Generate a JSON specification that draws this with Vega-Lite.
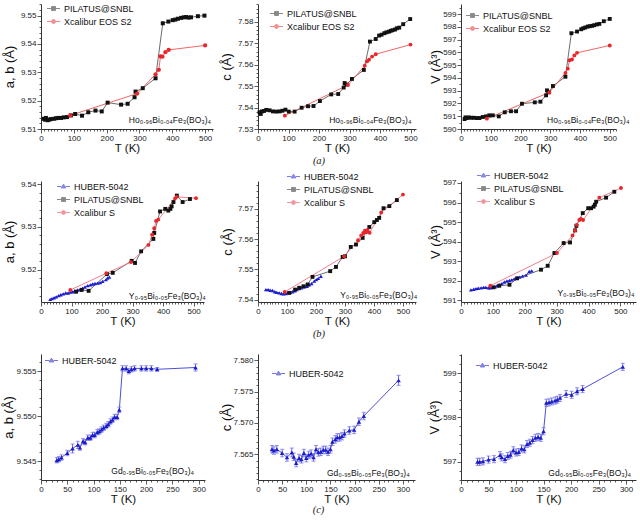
{
"$schema":"https://vega.github.io/schema/vega-lite/v6.json",
"background":"white",
"padding":{"left":2,"top":0,"right":2,"bottom":0},
"columns":3,
"bounds":"flush",
"align":"each",
"spacing":{"row":52,"column":45},
"resolve":{"scale":{"color":"independent","stroke":"independent","shape":"independent"},"legend":{"color":"independent","stroke":"independent","shape":"independent"}},
"config":{
"view":{"stroke":null},
"font":"Liberation Sans",
"axis":{"grid":false,"domainColor":"#333","domainWidth":1,"tickColor":"#333","tickWidth":0.8,"labelColor":"#222","labelFontSize":8,"labelFont":"Liberation Sans","titleFont":"Liberation Sans","titleFontWeight":"normal","titleColor":"#111","labelFlush":false,"labelOverlap":false,"labelPadding":1},
"axisX":{"titleFontSize":11.5,"titlePadding":0,"titleFontWeight":"normal"},
"axisY":{"titleFontSize":13,"titleFontWeight":"normal"},
"legend":{"labelFont":"Liberation Sans","labelFontSize":9,"labelColor":"#111","labelFontWeight":"normal"},
"title":{"font":"Liberation Serif","fontStyle":"italic","fontWeight":"normal","fontSize":10.5,"color":"#222"}
},
"datasets":{
"p1":[
{"T":8,"v":9.5136,"s":"PILATUS@SNBL"},{"T":12,"v":9.5133,"s":"PILATUS@SNBL"},{"T":15,"v":9.5139,"s":"PILATUS@SNBL"},{"T":20,"v":9.5131,"s":"PILATUS@SNBL"},{"T":25,"v":9.5133,"s":"PILATUS@SNBL"},{"T":30,"v":9.5135,"s":"PILATUS@SNBL"},{"T":39,"v":9.5136,"s":"PILATUS@SNBL"},{"T":46,"v":9.5138,"s":"PILATUS@SNBL"},{"T":53,"v":9.5139,"s":"PILATUS@SNBL"},{"T":61,"v":9.5139,"s":"PILATUS@SNBL"},{"T":69,"v":9.5141,"s":"PILATUS@SNBL"},{"T":79,"v":9.5142,"s":"PILATUS@SNBL"},{"T":91,"v":9.5148,"s":"PILATUS@SNBL"},{"T":104,"v":9.5153,"s":"PILATUS@SNBL"},{"T":125,"v":9.5147,"s":"PILATUS@SNBL"},{"T":144,"v":9.5159,"s":"PILATUS@SNBL"},{"T":166,"v":9.5165,"s":"PILATUS@SNBL"},{"T":185,"v":9.5162,"s":"PILATUS@SNBL"},{"T":203,"v":9.5193,"s":"PILATUS@SNBL"},{"T":244,"v":9.5186,"s":"PILATUS@SNBL"},{"T":264,"v":9.5189,"s":"PILATUS@SNBL"},{"T":285,"v":9.5212,"s":"PILATUS@SNBL"},{"T":288,"v":9.5232,"s":"PILATUS@SNBL"},{"T":310,"v":9.5244,"s":"PILATUS@SNBL"},{"T":349,"v":9.5279,"s":"PILATUS@SNBL"},{"T":371,"v":9.5473,"s":"PILATUS@SNBL"},{"T":388,"v":9.5479,"s":"PILATUS@SNBL"},{"T":401,"v":9.5484,"s":"PILATUS@SNBL"},{"T":409,"v":9.5486,"s":"PILATUS@SNBL"},{"T":417,"v":9.5489,"s":"PILATUS@SNBL"},{"T":427,"v":9.5492,"s":"PILATUS@SNBL"},{"T":435,"v":9.5494,"s":"PILATUS@SNBL"},{"T":442,"v":9.5495,"s":"PILATUS@SNBL"},{"T":449,"v":9.5493,"s":"PILATUS@SNBL"},{"T":457,"v":9.5494,"s":"PILATUS@SNBL"},{"T":478,"v":9.5498,"s":"PILATUS@SNBL"},{"T":498,"v":9.55,"s":"PILATUS@SNBL"},
{"T":89,"v":9.5148,"s":"Xcalibur EOS S2"},{"T":293,"v":9.5225,"s":"Xcalibur EOS S2"},{"T":349,"v":9.5293,"s":"Xcalibur EOS S2"},{"T":359,"v":9.5309,"s":"Xcalibur EOS S2"},{"T":364,"v":9.5356,"s":"Xcalibur EOS S2"},{"T":370,"v":9.5355,"s":"Xcalibur EOS S2"},{"T":379,"v":9.5371,"s":"Xcalibur EOS S2"},{"T":389,"v":9.5379,"s":"Xcalibur EOS S2"},{"T":500,"v":9.5395,"s":"Xcalibur EOS S2"}
],
"p2":[
{"T":5,"v":7.5378,"s":"PILATUS@SNBL"},{"T":9,"v":7.537,"s":"PILATUS@SNBL"},{"T":13,"v":7.5382,"s":"PILATUS@SNBL"},{"T":20,"v":7.5384,"s":"PILATUS@SNBL"},{"T":27,"v":7.5389,"s":"PILATUS@SNBL"},{"T":38,"v":7.5387,"s":"PILATUS@SNBL"},{"T":49,"v":7.5382,"s":"PILATUS@SNBL"},{"T":60,"v":7.5381,"s":"PILATUS@SNBL"},{"T":71,"v":7.5382,"s":"PILATUS@SNBL"},{"T":80,"v":7.5385,"s":"PILATUS@SNBL"},{"T":90,"v":7.539,"s":"PILATUS@SNBL"},{"T":101,"v":7.5381,"s":"PILATUS@SNBL"},{"T":120,"v":7.5381,"s":"PILATUS@SNBL"},{"T":143,"v":7.5399,"s":"PILATUS@SNBL"},{"T":164,"v":7.5406,"s":"PILATUS@SNBL"},{"T":182,"v":7.5407,"s":"PILATUS@SNBL"},{"T":203,"v":7.543,"s":"PILATUS@SNBL"},{"T":240,"v":7.5461,"s":"PILATUS@SNBL"},{"T":263,"v":7.5463,"s":"PILATUS@SNBL"},{"T":281,"v":7.5493,"s":"PILATUS@SNBL"},{"T":284,"v":7.5514,"s":"PILATUS@SNBL"},{"T":290,"v":7.5507,"s":"PILATUS@SNBL"},{"T":308,"v":7.5533,"s":"PILATUS@SNBL"},{"T":347,"v":7.5575,"s":"PILATUS@SNBL"},{"T":367,"v":7.5707,"s":"PILATUS@SNBL"},{"T":386,"v":7.5719,"s":"PILATUS@SNBL"},{"T":397,"v":7.5735,"s":"PILATUS@SNBL"},{"T":405,"v":7.5739,"s":"PILATUS@SNBL"},{"T":414,"v":7.5746,"s":"PILATUS@SNBL"},{"T":421,"v":7.575,"s":"PILATUS@SNBL"},{"T":429,"v":7.5753,"s":"PILATUS@SNBL"},{"T":435,"v":7.5757,"s":"PILATUS@SNBL"},{"T":441,"v":7.576,"s":"PILATUS@SNBL"},{"T":449,"v":7.5763,"s":"PILATUS@SNBL"},{"T":455,"v":7.5769,"s":"PILATUS@SNBL"},{"T":463,"v":7.5772,"s":"PILATUS@SNBL"},{"T":476,"v":7.5788,"s":"PILATUS@SNBL"},{"T":499,"v":7.5812,"s":"PILATUS@SNBL"},
{"T":88,"v":7.5362,"s":"Xcalibur EOS S2"},{"T":295,"v":7.5505,"s":"Xcalibur EOS S2"},{"T":350,"v":7.5595,"s":"Xcalibur EOS S2"},{"T":358,"v":7.5615,"s":"Xcalibur EOS S2"},{"T":364,"v":7.5623,"s":"Xcalibur EOS S2"},{"T":374,"v":7.5637,"s":"Xcalibur EOS S2"},{"T":386,"v":7.5648,"s":"Xcalibur EOS S2"},{"T":500,"v":7.5693,"s":"Xcalibur EOS S2"}
],
"p3":[
{"T":12,"v":590.78,"s":"PILATUS@SNBL"},{"T":15,"v":590.91,"s":"PILATUS@SNBL"},{"T":20,"v":590.86,"s":"PILATUS@SNBL"},{"T":26,"v":590.91,"s":"PILATUS@SNBL"},{"T":34,"v":590.88,"s":"PILATUS@SNBL"},{"T":43,"v":590.88,"s":"PILATUS@SNBL"},{"T":52,"v":590.86,"s":"PILATUS@SNBL"},{"T":62,"v":590.86,"s":"PILATUS@SNBL"},{"T":73,"v":590.94,"s":"PILATUS@SNBL"},{"T":84,"v":590.99,"s":"PILATUS@SNBL"},{"T":95,"v":591.07,"s":"PILATUS@SNBL"},{"T":107,"v":591.07,"s":"PILATUS@SNBL"},{"T":127,"v":590.99,"s":"PILATUS@SNBL"},{"T":147,"v":591.31,"s":"PILATUS@SNBL"},{"T":168,"v":591.39,"s":"PILATUS@SNBL"},{"T":185,"v":591.39,"s":"PILATUS@SNBL"},{"T":205,"v":591.98,"s":"PILATUS@SNBL"},{"T":248,"v":592.09,"s":"PILATUS@SNBL"},{"T":267,"v":592.14,"s":"PILATUS@SNBL"},{"T":286,"v":592.64,"s":"PILATUS@SNBL"},{"T":289,"v":593.03,"s":"PILATUS@SNBL"},{"T":295,"v":592.87,"s":"PILATUS@SNBL"},{"T":309,"v":593.37,"s":"PILATUS@SNBL"},{"T":351,"v":594.1,"s":"PILATUS@SNBL"},{"T":371,"v":597.51,"s":"PILATUS@SNBL"},{"T":390,"v":597.64,"s":"PILATUS@SNBL"},{"T":404,"v":597.82,"s":"PILATUS@SNBL"},{"T":411,"v":597.9,"s":"PILATUS@SNBL"},{"T":418,"v":597.96,"s":"PILATUS@SNBL"},{"T":426,"v":598.03,"s":"PILATUS@SNBL"},{"T":433,"v":598.06,"s":"PILATUS@SNBL"},{"T":441,"v":598.09,"s":"PILATUS@SNBL"},{"T":448,"v":598.14,"s":"PILATUS@SNBL"},{"T":457,"v":598.2,"s":"PILATUS@SNBL"},{"T":465,"v":598.24,"s":"PILATUS@SNBL"},{"T":480,"v":598.45,"s":"PILATUS@SNBL"},{"T":500,"v":598.63,"s":"PILATUS@SNBL"},
{"T":87,"v":590.81,"s":"Xcalibur EOS S2"},{"T":297,"v":592.87,"s":"Xcalibur EOS S2"},{"T":351,"v":594.39,"s":"Xcalibur EOS S2"},{"T":359,"v":594.73,"s":"Xcalibur EOS S2"},{"T":365,"v":595.39,"s":"Xcalibur EOS S2"},{"T":373,"v":595.45,"s":"Xcalibur EOS S2"},{"T":381,"v":595.77,"s":"Xcalibur EOS S2"},{"T":390,"v":595.97,"s":"Xcalibur EOS S2"},{"T":500,"v":596.55,"s":"Xcalibur EOS S2"}
],
"p4":[
{"T":30,"v":9.5131,"s":"HUBER-5042"},{"T":36,"v":9.5133,"s":"HUBER-5042"},{"T":43,"v":9.5135,"s":"HUBER-5042"},{"T":50,"v":9.5137,"s":"HUBER-5042"},{"T":58,"v":9.514,"s":"HUBER-5042"},{"T":65,"v":9.5142,"s":"HUBER-5042"},{"T":73,"v":9.5144,"s":"HUBER-5042"},{"T":81,"v":9.5146,"s":"HUBER-5042"},{"T":89,"v":9.5146,"s":"HUBER-5042"},{"T":97,"v":9.5148,"s":"HUBER-5042"},{"T":104,"v":9.5149,"s":"HUBER-5042"},{"T":111,"v":9.5151,"s":"HUBER-5042"},{"T":120,"v":9.5153,"s":"HUBER-5042"},{"T":129,"v":9.5155,"s":"HUBER-5042"},{"T":136,"v":9.5157,"s":"HUBER-5042"},{"T":144,"v":9.516,"s":"HUBER-5042"},{"T":153,"v":9.5163,"s":"HUBER-5042"},{"T":162,"v":9.5165,"s":"HUBER-5042"},{"T":169,"v":9.5167,"s":"HUBER-5042"},{"T":177,"v":9.5168,"s":"HUBER-5042"},{"T":186,"v":9.5169,"s":"HUBER-5042"},{"T":194,"v":9.517,"s":"HUBER-5042"},{"T":202,"v":9.5173,"s":"HUBER-5042"},{"T":213,"v":9.5177,"s":"HUBER-5042"},{"T":218,"v":9.5181,"s":"HUBER-5042"},{"T":224,"v":9.5183,"s":"HUBER-5042"},
{"T":115,"v":9.5149,"s":"PILATUS@SNBL"},{"T":133,"v":9.5153,"s":"PILATUS@SNBL"},{"T":156,"v":9.5151,"s":"PILATUS@SNBL"},{"T":216,"v":9.519,"s":"PILATUS@SNBL"},{"T":235,"v":9.5193,"s":"PILATUS@SNBL"},{"T":297,"v":9.5221,"s":"PILATUS@SNBL"},{"T":308,"v":9.5216,"s":"PILATUS@SNBL"},{"T":328,"v":9.5243,"s":"PILATUS@SNBL"},{"T":368,"v":9.5272,"s":"PILATUS@SNBL"},{"T":371,"v":9.5286,"s":"PILATUS@SNBL"},{"T":390,"v":9.5336,"s":"PILATUS@SNBL"},{"T":407,"v":9.5342,"s":"PILATUS@SNBL"},{"T":417,"v":9.5338,"s":"PILATUS@SNBL"},{"T":424,"v":9.5342,"s":"PILATUS@SNBL"},{"T":428,"v":9.5348,"s":"PILATUS@SNBL"},{"T":434,"v":9.5358,"s":"PILATUS@SNBL"},{"T":445,"v":9.5373,"s":"PILATUS@SNBL"},{"T":464,"v":9.5358,"s":"PILATUS@SNBL"},{"T":488,"v":9.5365,"s":"PILATUS@SNBL"},
{"T":96,"v":9.5153,"s":"Xcalibur S"},{"T":214,"v":9.5192,"s":"Xcalibur S"},{"T":295,"v":9.5218,"s":"Xcalibur S"},{"T":352,"v":9.5258,"s":"Xcalibur S"},{"T":364,"v":9.5282,"s":"Xcalibur S"},{"T":371,"v":9.5297,"s":"Xcalibur S"},{"T":377,"v":9.5314,"s":"Xcalibur S"},{"T":384,"v":9.5317,"s":"Xcalibur S"},{"T":439,"v":9.5366,"s":"Xcalibur S"},{"T":444,"v":9.537,"s":"Xcalibur S"},{"T":508,"v":9.5367,"s":"Xcalibur S"}
],
"p5":[
{"T":27,"v":7.5433,"s":"HUBER-5042"},{"T":35,"v":7.5433,"s":"HUBER-5042"},{"T":42,"v":7.5431,"s":"HUBER-5042"},{"T":50,"v":7.543,"s":"HUBER-5042"},{"T":58,"v":7.5426,"s":"HUBER-5042"},{"T":65,"v":7.5424,"s":"HUBER-5042"},{"T":73,"v":7.5422,"s":"HUBER-5042"},{"T":81,"v":7.542,"s":"HUBER-5042"},{"T":88,"v":7.5419,"s":"HUBER-5042"},{"T":96,"v":7.542,"s":"HUBER-5042"},{"T":102,"v":7.5422,"s":"HUBER-5042"},{"T":111,"v":7.5424,"s":"HUBER-5042"},{"T":119,"v":7.5426,"s":"HUBER-5042"},{"T":127,"v":7.5429,"s":"HUBER-5042"},{"T":134,"v":7.5433,"s":"HUBER-5042"},{"T":142,"v":7.5436,"s":"HUBER-5042"},{"T":150,"v":7.5439,"s":"HUBER-5042"},{"T":160,"v":7.5442,"s":"HUBER-5042"},{"T":169,"v":7.5444,"s":"HUBER-5042"},{"T":177,"v":7.5449,"s":"HUBER-5042"},{"T":185,"v":7.5453,"s":"HUBER-5042"},{"T":194,"v":7.5461,"s":"HUBER-5042"},{"T":201,"v":7.5466,"s":"HUBER-5042"},{"T":208,"v":7.547,"s":"HUBER-5042"},{"T":217,"v":7.5477,"s":"HUBER-5042"},
{"T":108,"v":7.5422,"s":"PILATUS@SNBL"},{"T":128,"v":7.5433,"s":"PILATUS@SNBL"},{"T":142,"v":7.5439,"s":"PILATUS@SNBL"},{"T":157,"v":7.5444,"s":"PILATUS@SNBL"},{"T":171,"v":7.545,"s":"PILATUS@SNBL"},{"T":188,"v":7.5475,"s":"PILATUS@SNBL"},{"T":249,"v":7.5494,"s":"PILATUS@SNBL"},{"T":269,"v":7.5508,"s":"PILATUS@SNBL"},{"T":292,"v":7.5541,"s":"PILATUS@SNBL"},{"T":300,"v":7.5543,"s":"PILATUS@SNBL"},{"T":320,"v":7.5574,"s":"PILATUS@SNBL"},{"T":338,"v":7.5582,"s":"PILATUS@SNBL"},{"T":361,"v":7.5604,"s":"PILATUS@SNBL"},{"T":384,"v":7.564,"s":"PILATUS@SNBL"},{"T":401,"v":7.5656,"s":"PILATUS@SNBL"},{"T":410,"v":7.5663,"s":"PILATUS@SNBL"},{"T":418,"v":7.567,"s":"PILATUS@SNBL"},{"T":433,"v":7.5702,"s":"PILATUS@SNBL"},{"T":453,"v":7.5709,"s":"PILATUS@SNBL"},{"T":479,"v":7.5729,"s":"PILATUS@SNBL"},
{"T":92,"v":7.5425,"s":"Xcalibur S"},{"T":297,"v":7.5543,"s":"Xcalibur S"},{"T":345,"v":7.5596,"s":"Xcalibur S"},{"T":356,"v":7.5612,"s":"Xcalibur S"},{"T":363,"v":7.562,"s":"Xcalibur S"},{"T":369,"v":7.5628,"s":"Xcalibur S"},{"T":373,"v":7.5622,"s":"Xcalibur S"},{"T":378,"v":7.563,"s":"Xcalibur S"},{"T":385,"v":7.5621,"s":"Xcalibur S"},{"T":425,"v":7.5688,"s":"Xcalibur S"},{"T":500,"v":7.5747,"s":"Xcalibur S"}
],
"p6":[
{"T":31,"v":591.54,"s":"HUBER-5042"},{"T":40,"v":591.57,"s":"HUBER-5042"},{"T":47,"v":591.6,"s":"HUBER-5042"},{"T":54,"v":591.62,"s":"HUBER-5042"},{"T":63,"v":591.64,"s":"HUBER-5042"},{"T":71,"v":591.67,"s":"HUBER-5042"},{"T":78,"v":591.67,"s":"HUBER-5042"},{"T":86,"v":591.64,"s":"HUBER-5042"},{"T":92,"v":591.65,"s":"HUBER-5042"},{"T":99,"v":591.67,"s":"HUBER-5042"},{"T":107,"v":591.7,"s":"HUBER-5042"},{"T":113,"v":591.75,"s":"HUBER-5042"},{"T":120,"v":591.8,"s":"HUBER-5042"},{"T":128,"v":591.86,"s":"HUBER-5042"},{"T":136,"v":591.94,"s":"HUBER-5042"},{"T":144,"v":591.99,"s":"HUBER-5042"},{"T":152,"v":592.02,"s":"HUBER-5042"},{"T":159,"v":592.05,"s":"HUBER-5042"},{"T":167,"v":592.1,"s":"HUBER-5042"},{"T":176,"v":592.15,"s":"HUBER-5042"},{"T":184,"v":592.19,"s":"HUBER-5042"},{"T":193,"v":592.24,"s":"HUBER-5042"},{"T":204,"v":592.29,"s":"HUBER-5042"},{"T":214,"v":592.48,"s":"HUBER-5042"},{"T":222,"v":592.51,"s":"HUBER-5042"},
{"T":102,"v":591.67,"s":"PILATUS@SNBL"},{"T":120,"v":591.75,"s":"PILATUS@SNBL"},{"T":152,"v":591.8,"s":"PILATUS@SNBL"},{"T":176,"v":592.13,"s":"PILATUS@SNBL"},{"T":251,"v":592.57,"s":"PILATUS@SNBL"},{"T":272,"v":592.77,"s":"PILATUS@SNBL"},{"T":293,"v":593.42,"s":"PILATUS@SNBL"},{"T":322,"v":593.93,"s":"PILATUS@SNBL"},{"T":342,"v":593.96,"s":"PILATUS@SNBL"},{"T":358,"v":594.58,"s":"PILATUS@SNBL"},{"T":362,"v":594.81,"s":"PILATUS@SNBL"},{"T":382,"v":595.46,"s":"PILATUS@SNBL"},{"T":399,"v":595.71,"s":"PILATUS@SNBL"},{"T":408,"v":595.71,"s":"PILATUS@SNBL"},{"T":416,"v":595.79,"s":"PILATUS@SNBL"},{"T":420,"v":595.89,"s":"PILATUS@SNBL"},{"T":424,"v":596.04,"s":"PILATUS@SNBL"},{"T":455,"v":596.25,"s":"PILATUS@SNBL"},{"T":481,"v":596.55,"s":"PILATUS@SNBL"},
{"T":92,"v":591.75,"s":"Xcalibur S"},{"T":301,"v":593.42,"s":"Xcalibur S"},{"T":350,"v":594.32,"s":"Xcalibur S"},{"T":358,"v":594.58,"s":"Xcalibur S"},{"T":363,"v":594.86,"s":"Xcalibur S"},{"T":371,"v":595.11,"s":"Xcalibur S"},{"T":376,"v":595.16,"s":"Xcalibur S"},{"T":383,"v":595.11,"s":"Xcalibur S"},{"T":434,"v":596.25,"s":"Xcalibur S"},{"T":502,"v":596.74,"s":"Xcalibur S"}
],
"p7":[
{"T":30,"v":9.5451,"e":0.0003,"s":"HUBER-5042"},{"T":34,"v":9.5452,"e":0.0003,"s":"HUBER-5042"},{"T":39,"v":9.5454,"e":0.0003,"s":"HUBER-5042"},{"T":50,"v":9.5459,"e":0.0003,"s":"HUBER-5042"},{"T":60,"v":9.5464,"e":0.0005,"s":"HUBER-5042"},{"T":70,"v":9.5468,"e":0.0004,"s":"HUBER-5042"},{"T":74,"v":9.5465,"e":0.0003,"s":"HUBER-5042"},{"T":80,"v":9.5472,"e":0.0003,"s":"HUBER-5042"},{"T":84,"v":9.5471,"e":0.0003,"s":"HUBER-5042"},{"T":89,"v":9.5476,"e":0.0003,"s":"HUBER-5042"},{"T":94,"v":9.5476,"e":0.0003,"s":"HUBER-5042"},{"T":98,"v":9.5479,"e":0.0003,"s":"HUBER-5042"},{"T":102,"v":9.5479,"e":0.0003,"s":"HUBER-5042"},{"T":107,"v":9.5482,"e":0.0003,"s":"HUBER-5042"},{"T":111,"v":9.5483,"e":0.0003,"s":"HUBER-5042"},{"T":115,"v":9.5485,"e":0.0003,"s":"HUBER-5042"},{"T":119,"v":9.5487,"e":0.0003,"s":"HUBER-5042"},{"T":124,"v":9.5489,"e":0.0003,"s":"HUBER-5042"},{"T":128,"v":9.5491,"e":0.0003,"s":"HUBER-5042"},{"T":132,"v":9.5494,"e":0.0003,"s":"HUBER-5042"},{"T":136,"v":9.5496,"e":0.0003,"s":"HUBER-5042"},{"T":140,"v":9.5499,"e":0.0003,"s":"HUBER-5042"},{"T":145,"v":9.5499,"e":0.0003,"s":"HUBER-5042"},{"T":149,"v":9.5507,"e":0.0003,"s":"HUBER-5042"},{"T":155,"v":9.5553,"e":0.0003,"s":"HUBER-5042"},{"T":162,"v":9.5553,"e":0.0003,"s":"HUBER-5042"},{"T":167,"v":9.555,"e":0.0003,"s":"HUBER-5042"},{"T":172,"v":9.5552,"e":0.0003,"s":"HUBER-5042"},{"T":178,"v":9.5553,"e":0.0003,"s":"HUBER-5042"},{"T":191,"v":9.5553,"e":0.0003,"s":"HUBER-5042"},{"T":200,"v":9.5553,"e":0.0003,"s":"HUBER-5042"},{"T":210,"v":9.5553,"e":0.0003,"s":"HUBER-5042"},{"T":221,"v":9.5552,"e":0.0002,"s":"HUBER-5042"},{"T":294,"v":9.5554,"e":0.0004,"s":"HUBER-5042"}
],
"p8":[
{"T":29,"v":7.5658,"e":0.0006,"s":"HUBER-5042"},{"T":33,"v":7.5656,"e":0.0006,"s":"HUBER-5042"},{"T":39,"v":7.5658,"e":0.0006,"s":"HUBER-5042"},{"T":50,"v":7.5652,"e":0.0006,"s":"HUBER-5042"},{"T":60,"v":7.5645,"e":0.0006,"s":"HUBER-5042"},{"T":70,"v":7.5653,"e":0.0007,"s":"HUBER-5042"},{"T":74,"v":7.5646,"e":0.0006,"s":"HUBER-5042"},{"T":79,"v":7.5636,"e":0.0006,"s":"HUBER-5042"},{"T":85,"v":7.5644,"e":0.0006,"s":"HUBER-5042"},{"T":90,"v":7.5642,"e":0.0006,"s":"HUBER-5042"},{"T":95,"v":7.5652,"e":0.0006,"s":"HUBER-5042"},{"T":100,"v":7.5644,"e":0.0006,"s":"HUBER-5042"},{"T":105,"v":7.5649,"e":0.0006,"s":"HUBER-5042"},{"T":110,"v":7.5651,"e":0.0006,"s":"HUBER-5042"},{"T":115,"v":7.5645,"e":0.0006,"s":"HUBER-5042"},{"T":120,"v":7.5658,"e":0.0006,"s":"HUBER-5042"},{"T":125,"v":7.5653,"e":0.0006,"s":"HUBER-5042"},{"T":130,"v":7.5654,"e":0.0006,"s":"HUBER-5042"},{"T":135,"v":7.5657,"e":0.0006,"s":"HUBER-5042"},{"T":140,"v":7.5657,"e":0.0006,"s":"HUBER-5042"},{"T":145,"v":7.5654,"e":0.0006,"s":"HUBER-5042"},{"T":150,"v":7.5658,"e":0.0006,"s":"HUBER-5042"},{"T":154,"v":7.567,"e":0.0006,"s":"HUBER-5042"},{"T":160,"v":7.5674,"e":0.0006,"s":"HUBER-5042"},{"T":164,"v":7.5677,"e":0.0006,"s":"HUBER-5042"},{"T":169,"v":7.5677,"e":0.0006,"s":"HUBER-5042"},{"T":174,"v":7.5679,"e":0.0006,"s":"HUBER-5042"},{"T":179,"v":7.5683,"e":0.0006,"s":"HUBER-5042"},{"T":189,"v":7.5688,"e":0.0006,"s":"HUBER-5042"},{"T":199,"v":7.5689,"e":0.0006,"s":"HUBER-5042"},{"T":209,"v":7.5702,"e":0.0006,"s":"HUBER-5042"},{"T":219,"v":7.5711,"e":0.0006,"s":"HUBER-5042"},{"T":291,"v":7.5768,"e":0.0008,"s":"HUBER-5042"}
],
"p9":[
{"T":30,"v":597.0,"e":0.08,"s":"HUBER-5042"},{"T":34,"v":597.0,"e":0.08,"s":"HUBER-5042"},{"T":40,"v":597.01,"e":0.08,"s":"HUBER-5042"},{"T":50,"v":597.05,"e":0.08,"s":"HUBER-5042"},{"T":60,"v":597.06,"e":0.08,"s":"HUBER-5042"},{"T":71,"v":597.15,"e":0.08,"s":"HUBER-5042"},{"T":74,"v":597.1,"e":0.08,"s":"HUBER-5042"},{"T":80,"v":597.06,"e":0.08,"s":"HUBER-5042"},{"T":85,"v":597.13,"e":0.08,"s":"HUBER-5042"},{"T":90,"v":597.16,"e":0.08,"s":"HUBER-5042"},{"T":95,"v":597.26,"e":0.08,"s":"HUBER-5042"},{"T":100,"v":597.21,"e":0.08,"s":"HUBER-5042"},{"T":105,"v":597.22,"e":0.08,"s":"HUBER-5042"},{"T":110,"v":597.3,"e":0.08,"s":"HUBER-5042"},{"T":115,"v":597.28,"e":0.08,"s":"HUBER-5042"},{"T":120,"v":597.4,"e":0.08,"s":"HUBER-5042"},{"T":125,"v":597.43,"e":0.08,"s":"HUBER-5042"},{"T":130,"v":597.49,"e":0.08,"s":"HUBER-5042"},{"T":135,"v":597.54,"e":0.08,"s":"HUBER-5042"},{"T":140,"v":597.56,"e":0.08,"s":"HUBER-5042"},{"T":145,"v":597.54,"e":0.08,"s":"HUBER-5042"},{"T":150,"v":597.69,"e":0.08,"s":"HUBER-5042"},{"T":155,"v":598.33,"e":0.08,"s":"HUBER-5042"},{"T":160,"v":598.34,"e":0.08,"s":"HUBER-5042"},{"T":165,"v":598.36,"e":0.08,"s":"HUBER-5042"},{"T":171,"v":598.38,"e":0.08,"s":"HUBER-5042"},{"T":175,"v":598.4,"e":0.08,"s":"HUBER-5042"},{"T":180,"v":598.44,"e":0.08,"s":"HUBER-5042"},{"T":191,"v":598.53,"e":0.08,"s":"HUBER-5042"},{"T":201,"v":598.51,"e":0.08,"s":"HUBER-5042"},{"T":211,"v":598.59,"e":0.08,"s":"HUBER-5042"},{"T":221,"v":598.64,"e":0.08,"s":"HUBER-5042"},{"T":294,"v":599.14,"e":0.08,"s":"HUBER-5042"}
]
},
"concat":[
{"width":172,"height":125,
"layer":[
{"data":{"name":"p1"},"transform":[{"filter":"datum.s === 'PILATUS@SNBL'"}],"mark":{"type":"line","strokeWidth":0.9,"color":"#5a5a5a"},
"encoding":{
"x":{"field":"T","type":"quantitative","scale":{"domain":[0,524],"nice":false,"zero":false},"axis":{"title":"T (K)","tickCount":500,"values":[0,10,20,30,40,50,60,70,80,90,100,110,120,130,140,150,160,170,180,190,200,210,220,230,240,250,260,270,280,290,300,310,320,330,340,350,360,370,380,390,400,410,420,430,440,450,460,470,480,490,500,510,520],"labelExpr":"datum.value % 100 === 0 ? format(datum.value,'d') : ''","tickSize":{"condition":{"test":"datum.value % 100 === 0","value":4},"value":2}}},
"y":{"field":"v","type":"quantitative","scale":{"domain":[9.51,9.5541],"nice":false,"zero":false},"axis":{"title":"a, b (Å)","titlePadding":4,"tickCount":500,"values":[9.51,9.512,9.514,9.516,9.518,9.52,9.522,9.524,9.526,9.528,9.53,9.532,9.534,9.536,9.538,9.54,9.542,9.544,9.546,9.548,9.55,9.552,9.554],"labelExpr":"abs(datum.value*100-round(datum.value*100)) < 0.000001 ? format(datum.value,'.2f') : ''","tickSize":{"condition":{"test":"abs(datum.value*100-round(datum.value*100)) < 0.000001","value":4},"value":2}}}}},
{"data":{"name":"p1"},"transform":[{"filter":"datum.s === 'Xcalibur EOS S2'"}],"mark":{"type":"line","strokeWidth":0.9,"color":"#ee5555"},"encoding":{"x":{"field":"T","type":"quantitative"},"y":{"field":"v","type":"quantitative"}}},
{"data":{"name":"p1"},"transform":[{"filter":"datum.s === 'PILATUS@SNBL'"}],"mark":{"type":"point","filled":true,"shape":"square","color":"#111111","opacity":1,"size":16},"encoding":{"x":{"field":"T","type":"quantitative"},"y":{"field":"v","type":"quantitative"}}},
{"data":{"name":"p1"},"transform":[{"filter":"datum.s === 'Xcalibur EOS S2'"}],"mark":{"type":"point","filled":true,"shape":"circle","color":"#e8262b","opacity":1,"size":18},"encoding":{"x":{"field":"T","type":"quantitative"},"y":{"field":"v","type":"quantitative"}}},
{"data":{"name":"p1"},"mark":{"type":"point","filled":true,"size":0},
"encoding":{"x":{"field":"T","type":"quantitative"},"y":{"field":"v","type":"quantitative"},
"color":{"field":"s","type":"nominal","scale":{"domain":["PILATUS@SNBL","Xcalibur EOS S2"],"range":["#111111","#e8262b"]},"legend":{"title":null,"orient":"none","legendX":5,"legendY":-3,"symbolSize":170,"symbolStrokeWidth":1,"symbolOpacity":1,"rowPadding":-4,"labelOffset":3,"padding":0}},
"stroke":{"field":"s","type":"nominal","scale":{"domain":["PILATUS@SNBL","Xcalibur EOS S2"],"range":["#5a5a5a","#ee5555"]}},
"shape":{"field":"s","type":"nominal","scale":{"domain":["PILATUS@SNBL","Xcalibur EOS S2"],"range":["M-1,0H-0.3M0.3,0H1M-0.3,-0.3H0.3V0.3H-0.3Z","M-1,0H-0.3M0.3,0H1M-0.3,0A0.3,0.3 0 1,0 0.3,0A0.3,0.3 0 1,0 -0.3,0Z"]}}}},
{"data":{"values":[{"label":"Ho₀.₉₆Bi₀.₀₄Fe₃(BO₃)₄"}]},"mark":{"type":"text","align":"right","baseline":"middle","dy":-9,"fontSize":8.5,"color":"#111"},
"encoding":{"x":{"datum":518},"y":{"datum":9.51},"text":{"field":"label"}}}
]},
{"width":158,"height":125,
"title":{"text":"(a)","orient":"bottom","anchor":"middle","dx":-18,"offset":2},
"layer":[
{"data":{"name":"p2"},"transform":[{"filter":"datum.s === 'PILATUS@SNBL'"}],"mark":{"type":"line","strokeWidth":0.9,"color":"#5a5a5a"},
"encoding":{
"x":{"field":"T","type":"quantitative","scale":{"domain":[0,518],"nice":false,"zero":false},"axis":{"title":"T (K)","tickCount":500,"values":[0,10,20,30,40,50,60,70,80,90,100,110,120,130,140,150,160,170,180,190,200,210,220,230,240,250,260,270,280,290,300,310,320,330,340,350,360,370,380,390,400,410,420,430,440,450,460,470,480,490,500,510],"labelExpr":"datum.value % 100 === 0 ? format(datum.value,'d') : ''","tickSize":{"condition":{"test":"datum.value % 100 === 0","value":4},"value":2}}},
"y":{"field":"v","type":"quantitative","scale":{"domain":[7.53,7.5882],"nice":false,"zero":false},"axis":{"title":"c (Å)","titlePadding":4,"tickCount":500,"values":[7.53,7.532,7.534,7.536,7.538,7.54,7.542,7.544,7.546,7.548,7.55,7.552,7.554,7.556,7.558,7.56,7.562,7.564,7.566,7.568,7.57,7.572,7.574,7.576,7.578,7.58,7.582,7.584,7.586,7.588],"labelExpr":"abs(datum.value*100-round(datum.value*100)) < 0.000001 ? format(datum.value,'.2f') : ''","tickSize":{"condition":{"test":"abs(datum.value*100-round(datum.value*100)) < 0.000001","value":4},"value":2}}}}},
{"data":{"name":"p2"},"transform":[{"filter":"datum.s === 'Xcalibur EOS S2'"}],"mark":{"type":"line","strokeWidth":0.9,"color":"#ee5555"},"encoding":{"x":{"field":"T","type":"quantitative"},"y":{"field":"v","type":"quantitative"}}},
{"data":{"name":"p2"},"transform":[{"filter":"datum.s === 'PILATUS@SNBL'"}],"mark":{"type":"point","filled":true,"shape":"square","color":"#111111","opacity":1,"size":15},"encoding":{"x":{"field":"T","type":"quantitative"},"y":{"field":"v","type":"quantitative"}}},
{"data":{"name":"p2"},"transform":[{"filter":"datum.s === 'Xcalibur EOS S2'"}],"mark":{"type":"point","filled":true,"shape":"circle","color":"#e8262b","opacity":1,"size":15},"encoding":{"x":{"field":"T","type":"quantitative"},"y":{"field":"v","type":"quantitative"}}},
{"data":{"name":"p2"},"mark":{"type":"point","filled":true,"size":0},
"encoding":{"x":{"field":"T","type":"quantitative"},"y":{"field":"v","type":"quantitative"},
"color":{"field":"s","type":"nominal","scale":{"domain":["PILATUS@SNBL","Xcalibur EOS S2"],"range":["#111111","#e8262b"]},"legend":{"title":null,"orient":"none","legendX":11,"legendY":2,"symbolSize":170,"symbolStrokeWidth":1,"symbolOpacity":1,"rowPadding":-4,"labelOffset":3,"padding":0}},
"stroke":{"field":"s","type":"nominal","scale":{"domain":["PILATUS@SNBL","Xcalibur EOS S2"],"range":["#5a5a5a","#ee5555"]}},
"shape":{"field":"s","type":"nominal","scale":{"domain":["PILATUS@SNBL","Xcalibur EOS S2"],"range":["M-1,0H-0.3M0.3,0H1M-0.3,-0.3H0.3V0.3H-0.3Z","M-1,0H-0.3M0.3,0H1M-0.3,0A0.3,0.3 0 1,0 0.3,0A0.3,0.3 0 1,0 -0.3,0Z"]}}}},
{"data":{"values":[{"label":"Ho₀.₉₆Bi₀.₀₄Fe₃(BO₃)₄"}]},"mark":{"type":"text","align":"right","baseline":"middle","dy":-9,"fontSize":8.5,"color":"#111"},
"encoding":{"x":{"datum":503},"y":{"datum":7.53},"text":{"field":"label"}}}
]},
{"width":155,"height":125,
"layer":[
{"data":{"name":"p3"},"transform":[{"filter":"datum.s === 'PILATUS@SNBL'"}],"mark":{"type":"line","strokeWidth":0.9,"color":"#5a5a5a"},
"encoding":{
"x":{"field":"T","type":"quantitative","scale":{"domain":[0,521],"nice":false,"zero":false},"axis":{"title":"T (K)","tickCount":500,"values":[0,10,20,30,40,50,60,70,80,90,100,110,120,130,140,150,160,170,180,190,200,210,220,230,240,250,260,270,280,290,300,310,320,330,340,350,360,370,380,390,400,410,420,430,440,450,460,470,480,490,500,510,520],"labelExpr":"datum.value % 100 === 0 ? format(datum.value,'d') : ''","tickSize":{"condition":{"test":"datum.value % 100 === 0","value":4},"value":2}}},
"y":{"field":"v","type":"quantitative","scale":{"domain":[590,599.8],"nice":false,"zero":false},"axis":{"title":"V (Å³)","titlePadding":0,"tickCount":500,"values":[590,590.5,591,591.5,592,592.5,593,593.5,594,594.5,595,595.5,596,596.5,597,597.5,598,598.5,599,599.5],"labelExpr":"abs(datum.value-round(datum.value)) < 0.000001 ? format(datum.value,'.0f') : ''","tickSize":{"condition":{"test":"abs(datum.value-round(datum.value)) < 0.000001","value":4},"value":2}}}}},
{"data":{"name":"p3"},"transform":[{"filter":"datum.s === 'Xcalibur EOS S2'"}],"mark":{"type":"line","strokeWidth":0.9,"color":"#ee5555"},"encoding":{"x":{"field":"T","type":"quantitative"},"y":{"field":"v","type":"quantitative"}}},
{"data":{"name":"p3"},"transform":[{"filter":"datum.s === 'PILATUS@SNBL'"}],"mark":{"type":"point","filled":true,"shape":"square","color":"#111111","opacity":1,"size":15},"encoding":{"x":{"field":"T","type":"quantitative"},"y":{"field":"v","type":"quantitative"}}},
{"data":{"name":"p3"},"transform":[{"filter":"datum.s === 'Xcalibur EOS S2'"}],"mark":{"type":"point","filled":true,"shape":"circle","color":"#e8262b","opacity":1,"size":15},"encoding":{"x":{"field":"T","type":"quantitative"},"y":{"field":"v","type":"quantitative"}}},
{"data":{"name":"p3"},"mark":{"type":"point","filled":true,"size":0},
"encoding":{"x":{"field":"T","type":"quantitative"},"y":{"field":"v","type":"quantitative"},
"color":{"field":"s","type":"nominal","scale":{"domain":["PILATUS@SNBL","Xcalibur EOS S2"],"range":["#111111","#e8262b"]},"legend":{"title":null,"orient":"none","legendX":4,"legendY":4,"symbolSize":170,"symbolStrokeWidth":1,"symbolOpacity":1,"rowPadding":-4,"labelOffset":3,"padding":0}},
"stroke":{"field":"s","type":"nominal","scale":{"domain":["PILATUS@SNBL","Xcalibur EOS S2"],"range":["#5a5a5a","#ee5555"]}},
"shape":{"field":"s","type":"nominal","scale":{"domain":["PILATUS@SNBL","Xcalibur EOS S2"],"range":["M-1,0H-0.3M0.3,0H1M-0.3,-0.3H0.3V0.3H-0.3Z","M-1,0H-0.3M0.3,0H1M-0.3,0A0.3,0.3 0 1,0 0.3,0A0.3,0.3 0 1,0 -0.3,0Z"]}}}},
{"data":{"values":[{"label":"Ho₀.₉₆Bi₀.₀₄Fe₃(BO₃)₄"}]},"mark":{"type":"text","align":"right","baseline":"middle","dy":-9,"fontSize":8.5,"color":"#111"},
"encoding":{"x":{"datum":566},"y":{"datum":590},"text":{"field":"label"}}}
]},
{"width":163,"height":121,
"layer":[
{"data":{"name":"p4"},"transform":[{"filter":"datum.s === 'HUBER-5042'"}],"mark":{"type":"line","strokeWidth":0.9,"color":"#4848dd"},
"encoding":{
"x":{"field":"T","type":"quantitative","scale":{"domain":[0,534],"nice":false,"zero":false},"axis":{"title":"T (K)","tickCount":500,"values":[0,10,20,30,40,50,60,70,80,90,100,110,120,130,140,150,160,170,180,190,200,210,220,230,240,250,260,270,280,290,300,310,320,330,340,350,360,370,380,390,400,410,420,430,440,450,460,470,480,490,500,510,520,530],"labelExpr":"datum.value % 100 === 0 ? format(datum.value,'d') : ''","tickSize":{"condition":{"test":"datum.value % 100 === 0","value":4},"value":2}}},
"y":{"field":"v","type":"quantitative","scale":{"domain":[9.5125,9.5407],"nice":false,"zero":false},"axis":{"title":"a, b (Å)","titlePadding":4,"tickCount":500,"values":[9.514,9.516,9.518,9.52,9.522,9.524,9.526,9.528,9.53,9.532,9.534,9.536,9.538,9.54],"labelExpr":"abs(datum.value*100-round(datum.value*100)) < 0.000001 ? format(datum.value,'.2f') : ''","tickSize":{"condition":{"test":"abs(datum.value*100-round(datum.value*100)) < 0.000001","value":4},"value":2}}}}},
{"data":{"name":"p4"},"transform":[{"filter":"datum.s === 'PILATUS@SNBL'"}],"mark":{"type":"line","strokeWidth":0.9,"color":"#5a5a5a"},"encoding":{"x":{"field":"T","type":"quantitative"},"y":{"field":"v","type":"quantitative"}}},
{"data":{"name":"p4"},"transform":[{"filter":"datum.s === 'Xcalibur S'"}],"mark":{"type":"line","strokeWidth":0.9,"color":"#f07080"},"encoding":{"x":{"field":"T","type":"quantitative"},"y":{"field":"v","type":"quantitative"}}},
{"data":{"name":"p4"},"transform":[{"filter":"datum.s === 'HUBER-5042'"}],"mark":{"type":"point","filled":true,"shape":"triangle-up","color":"#1c1ccf","opacity":1,"size":15},"encoding":{"x":{"field":"T","type":"quantitative"},"y":{"field":"v","type":"quantitative"}}},
{"data":{"name":"p4"},"transform":[{"filter":"datum.s === 'PILATUS@SNBL'"}],"mark":{"type":"point","filled":true,"shape":"square","color":"#111111","opacity":1,"size":15},"encoding":{"x":{"field":"T","type":"quantitative"},"y":{"field":"v","type":"quantitative"}}},
{"data":{"name":"p4"},"transform":[{"filter":"datum.s === 'Xcalibur S'"}],"mark":{"type":"point","filled":true,"shape":"circle","color":"#e8262b","opacity":1,"size":15},"encoding":{"x":{"field":"T","type":"quantitative"},"y":{"field":"v","type":"quantitative"}}},
{"data":{"name":"p4"},"mark":{"type":"point","filled":true,"size":0},
"encoding":{"x":{"field":"T","type":"quantitative"},"y":{"field":"v","type":"quantitative"},
"color":{"field":"s","type":"nominal","scale":{"domain":["HUBER-5042","PILATUS@SNBL","Xcalibur S"],"range":["#1c1ccf","#111111","#e8262b"]},"legend":{"title":null,"orient":"none","legendX":15,"legendY":-2,"symbolSize":170,"symbolStrokeWidth":1,"symbolOpacity":1,"rowPadding":-4,"labelOffset":3,"padding":0}},
"stroke":{"field":"s","type":"nominal","scale":{"domain":["HUBER-5042","PILATUS@SNBL","Xcalibur S"],"range":["#4848dd","#5a5a5a","#f07080"]}},
"shape":{"field":"s","type":"nominal","scale":{"domain":["HUBER-5042","PILATUS@SNBL","Xcalibur S"],"range":["M-1,0H-0.3M0.3,0H1M0,-0.36L0.33,0.22L-0.33,0.22Z","M-1,0H-0.3M0.3,0H1M-0.3,-0.3H0.3V0.3H-0.3Z","M-1,0H-0.3M0.3,0H1M-0.3,0A0.3,0.3 0 1,0 0.3,0A0.3,0.3 0 1,0 -0.3,0Z"]}}}},
{"data":{"values":[{"label":"Y₀.₉₅Bi₀.₀₅Fe₃(BO₃)₄"}]},"mark":{"type":"text","align":"right","baseline":"middle","dy":-6,"fontSize":8.5,"color":"#111"},
"encoding":{"x":{"datum":540},"y":{"datum":9.5125},"text":{"field":"label"}}}
]},
{"width":158,"height":121,
"title":{"text":"(b)","orient":"bottom","anchor":"middle","dx":-18,"offset":2},
"layer":[
{"data":{"name":"p5"},"transform":[{"filter":"datum.s === 'HUBER-5042'"}],"mark":{"type":"line","strokeWidth":0.9,"color":"#4848dd"},
"encoding":{
"x":{"field":"T","type":"quantitative","scale":{"domain":[0,545],"nice":false,"zero":false},"axis":{"title":"T (K)","tickCount":500,"values":[0,10,20,30,40,50,60,70,80,90,100,110,120,130,140,150,160,170,180,190,200,210,220,230,240,250,260,270,280,290,300,310,320,330,340,350,360,370,380,390,400,410,420,430,440,450,460,470,480,490,500,510,520,530,540],"labelExpr":"datum.value % 100 === 0 ? format(datum.value,'d') : ''","tickSize":{"condition":{"test":"datum.value % 100 === 0","value":4},"value":2}}},
"y":{"field":"v","type":"quantitative","scale":{"domain":[7.5392,7.5792],"nice":false,"zero":false},"axis":{"title":"c (Å)","titlePadding":3,"tickCount":500,"values":[7.54,7.542,7.544,7.546,7.548,7.55,7.552,7.554,7.556,7.558,7.56,7.562,7.564,7.566,7.568,7.57,7.572,7.574,7.576,7.578],"labelExpr":"abs(datum.value*100-round(datum.value*100)) < 0.000001 ? format(datum.value,'.2f') : ''","tickSize":{"condition":{"test":"abs(datum.value*100-round(datum.value*100)) < 0.000001","value":4},"value":2}}}}},
{"data":{"name":"p5"},"transform":[{"filter":"datum.s === 'PILATUS@SNBL'"}],"mark":{"type":"line","strokeWidth":0.9,"color":"#5a5a5a"},"encoding":{"x":{"field":"T","type":"quantitative"},"y":{"field":"v","type":"quantitative"}}},
{"data":{"name":"p5"},"transform":[{"filter":"datum.s === 'Xcalibur S'"}],"mark":{"type":"line","strokeWidth":0.9,"color":"#f07080"},"encoding":{"x":{"field":"T","type":"quantitative"},"y":{"field":"v","type":"quantitative"}}},
{"data":{"name":"p5"},"transform":[{"filter":"datum.s === 'HUBER-5042'"}],"mark":{"type":"point","filled":true,"shape":"triangle-up","color":"#1c1ccf","opacity":1,"size":15},"encoding":{"x":{"field":"T","type":"quantitative"},"y":{"field":"v","type":"quantitative"}}},
{"data":{"name":"p5"},"transform":[{"filter":"datum.s === 'PILATUS@SNBL'"}],"mark":{"type":"point","filled":true,"shape":"square","color":"#111111","opacity":1,"size":15},"encoding":{"x":{"field":"T","type":"quantitative"},"y":{"field":"v","type":"quantitative"}}},
{"data":{"name":"p5"},"transform":[{"filter":"datum.s === 'Xcalibur S'"}],"mark":{"type":"point","filled":true,"shape":"circle","color":"#e8262b","opacity":1,"size":15},"encoding":{"x":{"field":"T","type":"quantitative"},"y":{"field":"v","type":"quantitative"}}},
{"data":{"name":"p5"},"mark":{"type":"point","filled":true,"size":0},
"encoding":{"x":{"field":"T","type":"quantitative"},"y":{"field":"v","type":"quantitative"},
"color":{"field":"s","type":"nominal","scale":{"domain":["HUBER-5042","PILATUS@SNBL","Xcalibur S"],"range":["#1c1ccf","#111111","#e8262b"]},"legend":{"title":null,"orient":"none","legendX":28,"legendY":-12,"symbolSize":170,"symbolStrokeWidth":1,"symbolOpacity":1,"rowPadding":-4,"labelOffset":3,"padding":0}},
"stroke":{"field":"s","type":"nominal","scale":{"domain":["HUBER-5042","PILATUS@SNBL","Xcalibur S"],"range":["#4848dd","#5a5a5a","#f07080"]}},
"shape":{"field":"s","type":"nominal","scale":{"domain":["HUBER-5042","PILATUS@SNBL","Xcalibur S"],"range":["M-1,0H-0.3M0.3,0H1M0,-0.36L0.33,0.22L-0.33,0.22Z","M-1,0H-0.3M0.3,0H1M-0.3,-0.3H0.3V0.3H-0.3Z","M-1,0H-0.3M0.3,0H1M-0.3,0A0.3,0.3 0 1,0 0.3,0A0.3,0.3 0 1,0 -0.3,0Z"]}}}},
{"data":{"values":[{"label":"Y₀.₉₅Bi₀.₀₅Fe₃(BO₃)₄"}]},"mark":{"type":"text","align":"right","baseline":"middle","dy":-7,"fontSize":8.5,"color":"#111"},
"encoding":{"x":{"datum":549},"y":{"datum":7.5392},"text":{"field":"label"}}}
]},
{"width":175,"height":121,
"layer":[
{"data":{"name":"p6"},"transform":[{"filter":"datum.s === 'HUBER-5042'"}],"mark":{"type":"line","strokeWidth":0.9,"color":"#4848dd"},
"encoding":{
"x":{"field":"T","type":"quantitative","scale":{"domain":[0,549],"nice":false,"zero":false},"axis":{"title":"T (K)","tickCount":500,"values":[0,10,20,30,40,50,60,70,80,90,100,110,120,130,140,150,160,170,180,190,200,210,220,230,240,250,260,270,280,290,300,310,320,330,340,350,360,370,380,390,400,410,420,430,440,450,460,470,480,490,500,510,520,530,540],"labelExpr":"datum.value % 100 === 0 ? format(datum.value,'d') : ''","tickSize":{"condition":{"test":"datum.value % 100 === 0","value":4},"value":2}}},
"y":{"field":"v","type":"quantitative","scale":{"domain":[590.92,597.1],"nice":false,"zero":false},"axis":{"title":"V (Å³)","titlePadding":0,"tickCount":500,"values":[591,591.5,592,592.5,593,593.5,594,594.5,595,595.5,596,596.5,597],"labelExpr":"abs(datum.value-round(datum.value)) < 0.000001 ? format(datum.value,'.0f') : ''","tickSize":{"condition":{"test":"abs(datum.value-round(datum.value)) < 0.000001","value":4},"value":2}}}}},
{"data":{"name":"p6"},"transform":[{"filter":"datum.s === 'PILATUS@SNBL'"}],"mark":{"type":"line","strokeWidth":0.9,"color":"#5a5a5a"},"encoding":{"x":{"field":"T","type":"quantitative"},"y":{"field":"v","type":"quantitative"}}},
{"data":{"name":"p6"},"transform":[{"filter":"datum.s === 'Xcalibur S'"}],"mark":{"type":"line","strokeWidth":0.9,"color":"#f07080"},"encoding":{"x":{"field":"T","type":"quantitative"},"y":{"field":"v","type":"quantitative"}}},
{"data":{"name":"p6"},"transform":[{"filter":"datum.s === 'HUBER-5042'"}],"mark":{"type":"point","filled":true,"shape":"triangle-up","color":"#1c1ccf","opacity":1,"size":15},"encoding":{"x":{"field":"T","type":"quantitative"},"y":{"field":"v","type":"quantitative"}}},
{"data":{"name":"p6"},"transform":[{"filter":"datum.s === 'PILATUS@SNBL'"}],"mark":{"type":"point","filled":true,"shape":"square","color":"#111111","opacity":1,"size":15},"encoding":{"x":{"field":"T","type":"quantitative"},"y":{"field":"v","type":"quantitative"}}},
{"data":{"name":"p6"},"transform":[{"filter":"datum.s === 'Xcalibur S'"}],"mark":{"type":"point","filled":true,"shape":"circle","color":"#e8262b","opacity":1,"size":15},"encoding":{"x":{"field":"T","type":"quantitative"},"y":{"field":"v","type":"quantitative"}}},
{"data":{"name":"p6"},"mark":{"type":"point","filled":true,"size":0},
"encoding":{"x":{"field":"T","type":"quantitative"},"y":{"field":"v","type":"quantitative"},
"color":{"field":"s","type":"nominal","scale":{"domain":["HUBER-5042","PILATUS@SNBL","Xcalibur S"],"range":["#1c1ccf","#111111","#e8262b"]},"legend":{"title":null,"orient":"none","legendX":15,"legendY":-13,"symbolSize":170,"symbolStrokeWidth":1,"symbolOpacity":1,"rowPadding":-4,"labelOffset":3,"padding":0}},
"stroke":{"field":"s","type":"nominal","scale":{"domain":["HUBER-5042","PILATUS@SNBL","Xcalibur S"],"range":["#4848dd","#5a5a5a","#f07080"]}},
"shape":{"field":"s","type":"nominal","scale":{"domain":["HUBER-5042","PILATUS@SNBL","Xcalibur S"],"range":["M-1,0H-0.3M0.3,0H1M0,-0.36L0.33,0.22L-0.33,0.22Z","M-1,0H-0.3M0.3,0H1M-0.3,-0.3H0.3V0.3H-0.3Z","M-1,0H-0.3M0.3,0H1M-0.3,0A0.3,0.3 0 1,0 0.3,0A0.3,0.3 0 1,0 -0.3,0Z"]}}}},
{"data":{"values":[{"label":"Y₀.₉₅Bi₀.₀₅Fe₃(BO₃)₄"}]},"mark":{"type":"text","align":"right","baseline":"middle","dy":-9,"fontSize":8.5,"color":"#111"},
"encoding":{"x":{"datum":544},"y":{"datum":590.92},"text":{"field":"label"}}}
]},
{"width":164,"height":126,
"layer":[
{"data":{"name":"p7"},"mark":{"type":"line","strokeWidth":0.9,"color":"#3a3ad0"},
"encoding":{
"x":{"field":"T","type":"quantitative","scale":{"domain":[0,312],"nice":false,"zero":false},"axis":{"title":"T (K)","tickCount":500,"values":[0,10,20,30,40,50,60,70,80,90,100,110,120,130,140,150,160,170,180,190,200,210,220,230,240,250,260,270,280,290,300,310],"labelExpr":"datum.value % 50 === 0 ? format(datum.value,'d') : ''","tickSize":{"condition":{"test":"datum.value % 50 === 0","value":4},"value":2}}},
"y":{"field":"v","type":"quantitative","scale":{"domain":[9.5429,9.5569],"nice":false,"zero":false},"axis":{"title":"a, b (Å)","titlePadding":0,"tickCount":500,"values":[9.543,9.544,9.545,9.546,9.547,9.548,9.549,9.55,9.551,9.552,9.553,9.554,9.555,9.556],"labelExpr":"abs(datum.value*200-round(datum.value*200)) < 0.000001 ? format(datum.value,'.3f') : ''","tickSize":{"condition":{"test":"abs(datum.value*200-round(datum.value*200)) < 0.000001","value":4},"value":2}}}}},
{"data":{"name":"p7"},"mark":{"type":"errorbar","ticks":{"size":4},"color":"#6b6be6"},
"encoding":{"x":{"field":"T","type":"quantitative","title":"T (K)"},"y":{"field":"v","type":"quantitative","title":"a, b (Å)"},"yError":{"field":"e"}}},
{"data":{"name":"p7"},"mark":{"type":"point","filled":true,"size":20,"color":"#1c1cc8","shape":"triangle-up","opacity":1},
"encoding":{"x":{"field":"T","type":"quantitative"},"y":{"field":"v","type":"quantitative"}}},
{"data":{"name":"p7"},"mark":{"type":"point","filled":true,"size":0},
"encoding":{"x":{"field":"T","type":"quantitative"},"y":{"field":"v","type":"quantitative"},
"color":{"field":"s","type":"nominal","scale":{"domain":["HUBER-5042"],"range":["#1c1cc8"]},"legend":{"title":null,"orient":"none","legendX":3,"legendY":-1,"symbolSize":170,"symbolStrokeWidth":1,"symbolOpacity":1,"rowPadding":-4,"labelOffset":3,"padding":0}},
"stroke":{"field":"s","type":"nominal","scale":{"domain":["HUBER-5042"],"range":["#3a3ad0"]}},
"shape":{"field":"s","type":"nominal","scale":{"domain":["HUBER-5042"],"range":["M-1,0H-0.3M0.3,0H1M0,-0.36L0.33,0.22L-0.33,0.22Z"]}}}},
{"data":{"values":[{"label":"Gd₀.₉₅Bi₀.₀₅Fe₃(BO₃)₄"}]},"mark":{"type":"text","align":"right","baseline":"middle","dy":-9,"fontSize":8.5,"color":"#111"},
"encoding":{"x":{"datum":291},"y":{"datum":9.5429},"text":{"field":"label"}}}
]},
{"width":157,"height":126,
"title":{"text":"(c)","orient":"bottom","anchor":"middle","dx":-18,"offset":0},
"layer":[
{"data":{"name":"p8"},"mark":{"type":"line","strokeWidth":0.9,"color":"#3a3ad0"},
"encoding":{
"x":{"field":"T","type":"quantitative","scale":{"domain":[0,325],"nice":false,"zero":false},"axis":{"title":"T (K)","tickCount":500,"values":[0,10,20,30,40,50,60,70,80,90,100,110,120,130,140,150,160,170,180,190,200,210,220,230,240,250,260,270,280,290,300,310,320],"labelExpr":"datum.value % 50 === 0 ? format(datum.value,'d') : ''","tickSize":{"condition":{"test":"datum.value % 50 === 0","value":4},"value":2}}},
"y":{"field":"v","type":"quantitative","scale":{"domain":[7.5609,7.581],"nice":false,"zero":false},"axis":{"title":"c (Å)","titlePadding":-1,"tickCount":500,"values":[7.561,7.562,7.563,7.564,7.565,7.566,7.567,7.568,7.569,7.57,7.571,7.572,7.573,7.574,7.575,7.576,7.577,7.578,7.579,7.58],"labelExpr":"abs(datum.value*200-round(datum.value*200)) < 0.000001 ? format(datum.value,'.3f') : ''","tickSize":{"condition":{"test":"abs(datum.value*200-round(datum.value*200)) < 0.000001","value":4},"value":2}}}}},
{"data":{"name":"p8"},"mark":{"type":"errorbar","ticks":{"size":4},"color":"#6b6be6"},
"encoding":{"x":{"field":"T","type":"quantitative","title":"T (K)"},"y":{"field":"v","type":"quantitative","title":"c (Å)"},"yError":{"field":"e"}}},
{"data":{"name":"p8"},"mark":{"type":"point","filled":true,"size":20,"color":"#1c1cc8","shape":"triangle-up","opacity":1},
"encoding":{"x":{"field":"T","type":"quantitative"},"y":{"field":"v","type":"quantitative"}}},
{"data":{"name":"p8"},"mark":{"type":"point","filled":true,"size":0},
"encoding":{"x":{"field":"T","type":"quantitative"},"y":{"field":"v","type":"quantitative"},
"color":{"field":"s","type":"nominal","scale":{"domain":["HUBER-5042"],"range":["#1c1cc8"]},"legend":{"title":null,"orient":"none","legendX":13,"legendY":12,"symbolSize":170,"symbolStrokeWidth":1,"symbolOpacity":1,"rowPadding":-4,"labelOffset":3,"padding":0}},
"stroke":{"field":"s","type":"nominal","scale":{"domain":["HUBER-5042"],"range":["#3a3ad0"]}},
"shape":{"field":"s","type":"nominal","scale":{"domain":["HUBER-5042"],"range":["M-1,0H-0.3M0.3,0H1M0,-0.36L0.33,0.22L-0.33,0.22Z"]}}}},
{"data":{"values":[{"label":"Gd₀.₉₅Bi₀.₀₅Fe₃(BO₃)₄"}]},"mark":{"type":"text","align":"right","baseline":"middle","dy":-7,"fontSize":8.5,"color":"#111"},
"encoding":{"x":{"datum":314},"y":{"datum":7.5609},"text":{"field":"label"}}}
]},
{"width":175,"height":126,
"layer":[
{"data":{"name":"p9"},"mark":{"type":"line","strokeWidth":0.9,"color":"#3a3ad0"},
"encoding":{
"x":{"field":"T","type":"quantitative","scale":{"domain":[0,318],"nice":false,"zero":false},"axis":{"title":"T (K)","tickCount":500,"values":[0,10,20,30,40,50,60,70,80,90,100,110,120,130,140,150,160,170,180,190,200,210,220,230,240,250,260,270,280,290,300,310],"labelExpr":"datum.value % 50 === 0 ? format(datum.value,'d') : ''","tickSize":{"condition":{"test":"datum.value % 50 === 0","value":4},"value":2}}},
"y":{"field":"v","type":"quantitative","scale":{"domain":[596.59,599.43],"nice":false,"zero":false},"axis":{"title":"V (Å³)","titlePadding":1,"tickCount":500,"values":[596.6,596.8,597,597.2,597.4,597.6,597.8,598,598.2,598.4,598.6,598.8,599,599.2,599.4],"labelExpr":"abs(datum.value-round(datum.value)) < 0.000001 ? format(datum.value,'.0f') : ''","tickSize":{"condition":{"test":"abs(datum.value-round(datum.value)) < 0.000001","value":4},"value":2}}}}},
{"data":{"name":"p9"},"mark":{"type":"errorbar","ticks":{"size":4},"color":"#6b6be6"},
"encoding":{"x":{"field":"T","type":"quantitative","title":"T (K)"},"y":{"field":"v","type":"quantitative","title":"V (Å³)"},"yError":{"field":"e"}}},
{"data":{"name":"p9"},"mark":{"type":"point","filled":true,"size":20,"color":"#1c1cc8","shape":"triangle-up","opacity":1},
"encoding":{"x":{"field":"T","type":"quantitative"},"y":{"field":"v","type":"quantitative"}}},
{"data":{"name":"p9"},"mark":{"type":"point","filled":true,"size":0},
"encoding":{"x":{"field":"T","type":"quantitative"},"y":{"field":"v","type":"quantitative"},
"color":{"field":"s","type":"nominal","scale":{"domain":["HUBER-5042"],"range":["#1c1cc8"]},"legend":{"title":null,"orient":"none","legendX":14,"legendY":4,"symbolSize":170,"symbolStrokeWidth":1,"symbolOpacity":1,"rowPadding":-4,"labelOffset":3,"padding":0}},
"stroke":{"field":"s","type":"nominal","scale":{"domain":["HUBER-5042"],"range":["#3a3ad0"]}},
"shape":{"field":"s","type":"nominal","scale":{"domain":["HUBER-5042"],"range":["M-1,0H-0.3M0.3,0H1M0,-0.36L0.33,0.22L-0.33,0.22Z"]}}}},
{"data":{"values":[{"label":"Gd₀.₉₅Bi₀.₀₅Fe₃(BO₃)₄"}]},"mark":{"type":"text","align":"right","baseline":"middle","dy":-7,"fontSize":8.5,"color":"#111"},
"encoding":{"x":{"datum":309},"y":{"datum":596.59},"text":{"field":"label"}}}
]}
]
}
